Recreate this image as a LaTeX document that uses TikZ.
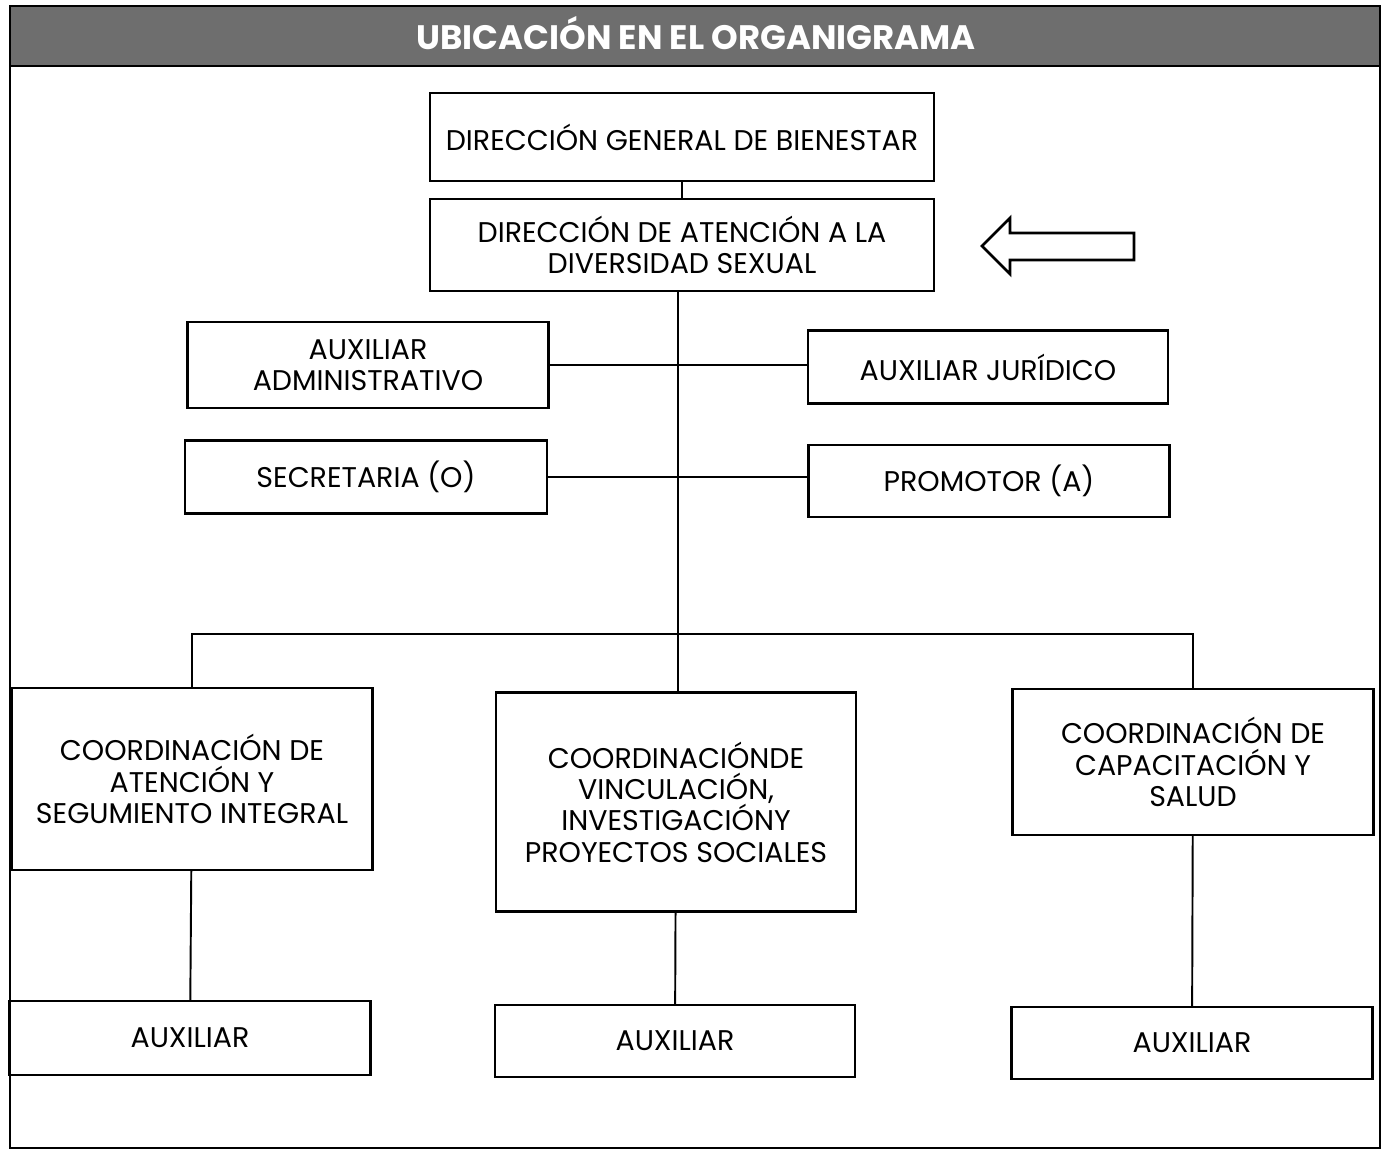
\documentclass[tikz,border=0pt]{standalone}
\usepackage{fontspec}
\setmainfont{Poppins}
\definecolor{bandgray}{HTML}{6E6E6E}
\begin{document}
\begin{tikzpicture}[
  x=0.02cm, y=-0.02cm,
  every node/.style={font=\fontsize{16.2}{17.8}\selectfont, align=center},
  box/.style={draw, rectangle, line width=1.4pt, inner sep=2pt},
  link/.style={line width=1.1pt},
  title/.style={text=white, font=\fontsize{19.3}{21}\selectfont\bfseries}
]
\useasboundingbox (0,0) rectangle (1383,1152);
\fill[bandgray] (10,6) rectangle (1380,66);
\draw[line width=1pt] (10,6) rectangle (1380,1148);
\draw[line width=1.4pt] (10,66) -- (1380,66);
\node[title] (head) at (696,33) {UBICACIÓN EN EL ORGANIGRAMA};

\node[box, minimum width=10.08cm, minimum height=1.76cm] (dgb) at (682,137) {DIRECCIÓN GENERAL DE BIENESTAR};
\node[box, minimum width=10.08cm, minimum height=1.84cm] (dads) at (682,245) {DIRECCIÓN DE ATENCIÓN A LA\\DIVERSIDAD SEXUAL};

\node[box, minimum width=7.22cm, minimum height=1.72cm] (auxadm) at (368,365) {AUXILIAR\\ADMINISTRATIVO};
\node[box, minimum width=7.2cm, minimum height=1.46cm] (auxjur) at (988,367) {AUXILIAR JURÍDICO};
\node[box, minimum width=7.24cm, minimum height=1.46cm] (secr) at (366,477) {SECRETARIA (O)};
\node[box, minimum width=7.22cm, minimum height=1.44cm] (prom) at (989,481) {PROMOTOR (A)};

\node[box, minimum width=7.22cm, minimum height=3.64cm] (coord1) at (192,779) {COORDINACIÓN DE\\ATENCIÓN Y\\SEGUMIENTO INTEGRAL};
\node[box, minimum width=7.2cm, minimum height=4.38cm] (coord2) at (676,802) {COORDINACIÓNDE\\VINCULACIÓN,\\INVESTIGACIÓNY\\PROYECTOS SOCIALES};
\node[box, minimum width=7.22cm, minimum height=2.92cm] (coord3) at (1193,762) {COORDINACIÓN DE\\CAPACITACIÓN Y\\SALUD};

\node[box, minimum width=7.22cm, minimum height=1.48cm] (aux1) at (190,1038) {AUXILIAR};
\node[box, minimum width=7.2cm, minimum height=1.44cm] (aux2) at (675,1041) {AUXILIAR};
\node[box, minimum width=7.22cm, minimum height=1.44cm] (aux3) at (1192,1043) {AUXILIAR};

% pointer to the unit
\draw[line width=1.6pt, line join=miter] (1134,233) -- (1010,233) -- (1010,218) -- (982,246)
  -- (1010,274) -- (1010,260) -- (1134,260) -- cycle;

\coordinate (bus) at (678,634);
\draw[link] (dgb) -- (dads);
\draw[link] (dads.south -| bus) -- (coord2.north -| bus);
\draw[link] (auxadm.east) -- (auxadm.east -| auxjur.west);
\draw[link] (secr.east) -- (secr.east -| prom.west);
\draw[link] (coord1.north) |- (bus) -| (coord3.north);
\draw[link] (coord1) -- (aux1);
\draw[link] (coord2) -- (aux2);
\draw[link] (coord3) -- (aux3);
\end{tikzpicture}
\end{document}
